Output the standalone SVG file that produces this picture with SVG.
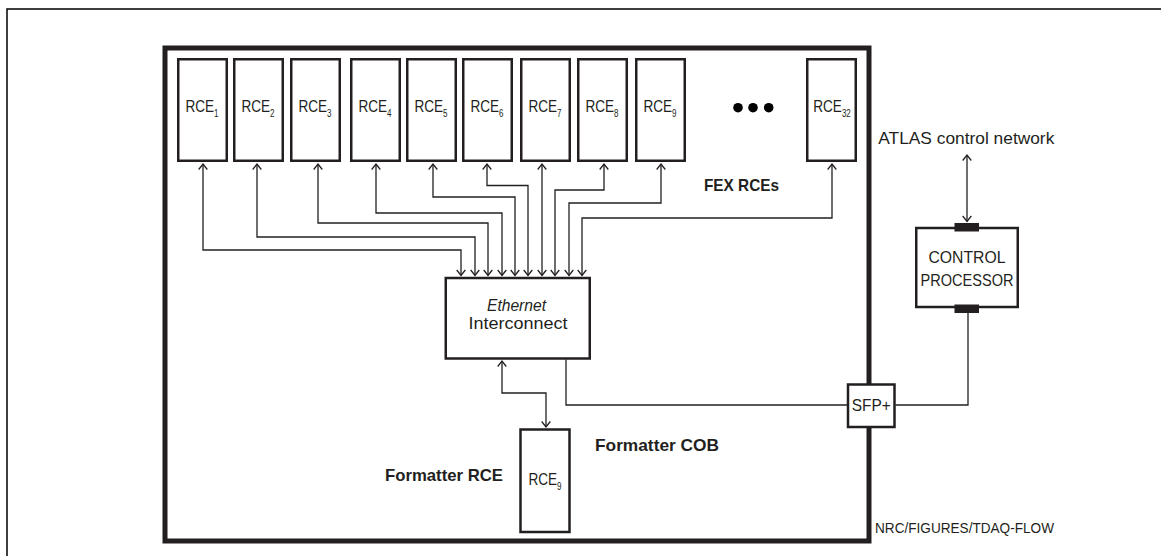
<svg xmlns="http://www.w3.org/2000/svg" width="1161" height="556" viewBox="0 0 1161 556">
<style>
.t{font-family:"Liberation Sans",Arial,sans-serif;fill:#231f20}
.b{font-weight:bold}
.box{fill:#fff;stroke:#231f20;stroke-width:2.5}
.cn{fill:none;stroke:#231f20;stroke-width:1.3}
.ar{marker-start:url(#ah);marker-end:url(#ah)}
.rl{font-size:17px}
.sub{font-size:10px}
</style>
<defs>
<marker id="ah" viewBox="-7 -6 8 12" refX="0" refY="0" markerWidth="8" markerHeight="12" markerUnits="userSpaceOnUse" orient="auto-start-reverse" overflow="visible">
<path d="M-5.5,-4.3 L0,0 L-5.5,4.3" fill="none" stroke="#231f20" stroke-width="1.3"/>
</marker>
</defs>
<rect width="1161" height="556" fill="#fff"/>
<path d="M7,556 V9 H1161" fill="none" stroke="#000" stroke-width="1.5"/>
<g id="formatter-cob">
<rect x="165" y="48" width="704" height="493" fill="none" stroke="#231f20" stroke-width="5"/>
<text class="t b" x="595" y="451" font-size="17" textLength="124" lengthAdjust="spacingAndGlyphs">Formatter COB</text>
</g>
<g id="fex-rces-label"><text class="t b" x="704" y="191" font-size="17" textLength="75" lengthAdjust="spacingAndGlyphs">FEX RCEs</text></g>
<g id="rce1"><rect class="box" x="178.25" y="59.25" width="48.5" height="101.5"/><text class="t rl" text-anchor="middle" transform="translate(202,112) scale(0.8,1)">RCE<tspan class="sub" dy="5">1</tspan></text></g>
<g id="rce2"><rect class="box" x="234.25" y="59.25" width="48.5" height="101.5"/><text class="t rl" text-anchor="middle" transform="translate(258,112) scale(0.8,1)">RCE<tspan class="sub" dy="5">2</tspan></text></g>
<g id="rce3"><rect class="box" x="291.25" y="59.25" width="48.5" height="101.5"/><text class="t rl" text-anchor="middle" transform="translate(315,112) scale(0.8,1)">RCE<tspan class="sub" dy="5">3</tspan></text></g>
<g id="rce4"><rect class="box" x="351.25" y="59.25" width="48.5" height="101.5"/><text class="t rl" text-anchor="middle" transform="translate(375,112) scale(0.8,1)">RCE<tspan class="sub" dy="5">4</tspan></text></g>
<g id="rce5"><rect class="box" x="407.25" y="59.25" width="48.5" height="101.5"/><text class="t rl" text-anchor="middle" transform="translate(431,112) scale(0.8,1)">RCE<tspan class="sub" dy="5">5</tspan></text></g>
<g id="rce6"><rect class="box" x="463.25" y="59.25" width="48.5" height="101.5"/><text class="t rl" text-anchor="middle" transform="translate(487,112) scale(0.8,1)">RCE<tspan class="sub" dy="5">6</tspan></text></g>
<g id="rce7"><rect class="box" x="521.25" y="59.25" width="48.5" height="101.5"/><text class="t rl" text-anchor="middle" transform="translate(545,112) scale(0.8,1)">RCE<tspan class="sub" dy="5">7</tspan></text></g>
<g id="rce8"><rect class="box" x="578.25" y="59.25" width="48.5" height="101.5"/><text class="t rl" text-anchor="middle" transform="translate(602,112) scale(0.8,1)">RCE<tspan class="sub" dy="5">8</tspan></text></g>
<g id="rce9"><rect class="box" x="636.25" y="59.25" width="48.5" height="101.5"/><text class="t rl" text-anchor="middle" transform="translate(660,112) scale(0.8,1)">RCE<tspan class="sub" dy="5">9</tspan></text></g>
<g id="ellipsis" fill="#000"><circle cx="738" cy="107.7" r="4.8"/><circle cx="753" cy="107.7" r="4.8"/><circle cx="768.7" cy="107.7" r="4.8"/></g>
<g id="rce32"><rect class="box" x="807.25" y="59.25" width="48.5" height="101.5"/><text class="t rl" text-anchor="middle" transform="translate(832,112) scale(0.8,1)">RCE<tspan class="sub" dy="5">32</tspan></text></g>
<g id="ethernet-interconnect"><rect class="box" x="445.75" y="278" width="144" height="80.5"/>
<text class="t" x="516.5" y="310.5" font-size="16" font-style="italic" text-anchor="middle" textLength="59" lengthAdjust="spacingAndGlyphs">Ethernet</text>
<text class="t" x="518" y="329" font-size="16" text-anchor="middle" textLength="99" lengthAdjust="spacingAndGlyphs">Interconnect</text></g>
<g id="formatter-rce"><rect class="box" x="520.5" y="429.5" width="49" height="102.5"/><text class="t rl" text-anchor="middle" transform="translate(545,484.5) scale(0.8,1)">RCE<tspan class="sub" dy="5">9</tspan></text>
<text class="t b" x="385" y="481" font-size="17" textLength="118" lengthAdjust="spacingAndGlyphs">Formatter RCE</text></g>
<g id="sfp"><rect class="box" x="848" y="384.5" width="46.5" height="42.5"/><text class="t" x="871.2" y="410.7" font-size="17" text-anchor="middle" textLength="39" lengthAdjust="spacingAndGlyphs">SFP+</text></g>
<g id="control-processor"><rect class="box" x="916.25" y="228" width="101.5" height="79"/>
<rect x="954.5" y="223" width="24.5" height="8.5" fill="#231f20"/>
<rect x="954.5" y="304.5" width="24.5" height="8.5" fill="#231f20"/>
<text class="t" x="967" y="263.3" font-size="17" text-anchor="middle" textLength="77" lengthAdjust="spacingAndGlyphs">CONTROL</text>
<text class="t" x="967" y="286" font-size="17" text-anchor="middle" textLength="93" lengthAdjust="spacingAndGlyphs">PROCESSOR</text></g>
<g id="atlas-network"><text class="t" x="878.3" y="144" font-size="17" textLength="176" lengthAdjust="spacingAndGlyphs">ATLAS control network</text></g>
<g id="figure-id"><text class="t" x="875" y="532.7" font-size="15" textLength="179" lengthAdjust="spacingAndGlyphs">NRC/FIGURES/TDAQ-FLOW</text></g>
<g id="connectors">
<path class="cn ar" d="M203,164 V250 H461 V275.5"/>
<path class="cn ar" d="M257,164 V237 H475 V275.5"/>
<path class="cn ar" d="M318,164 V223 H488 V275.5"/>
<path class="cn ar" d="M376,164 V213 H502 V275.5"/>
<path class="cn ar" d="M433,164 V197 H515 V275.5"/>
<path class="cn ar" d="M487,164 V185.5 H528 V275.5"/>
<path class="cn ar" d="M542,164 V275.5"/>
<path class="cn ar" d="M604,164 V190 H555 V275.5"/>
<path class="cn ar" d="M661,164 V203 H569 V275.5"/>
<path class="cn ar" d="M832,164 V218 H582 V275.5"/>
<path class="cn ar" d="M502,361 V393 H546 V427"/>
<path class="cn" d="M566,359.5 V405 H847"/>
<path class="cn" d="M895.5,405 H968 V313"/>
<path class="cn ar" d="M967,155 V221.5"/>
</g>
</svg>
